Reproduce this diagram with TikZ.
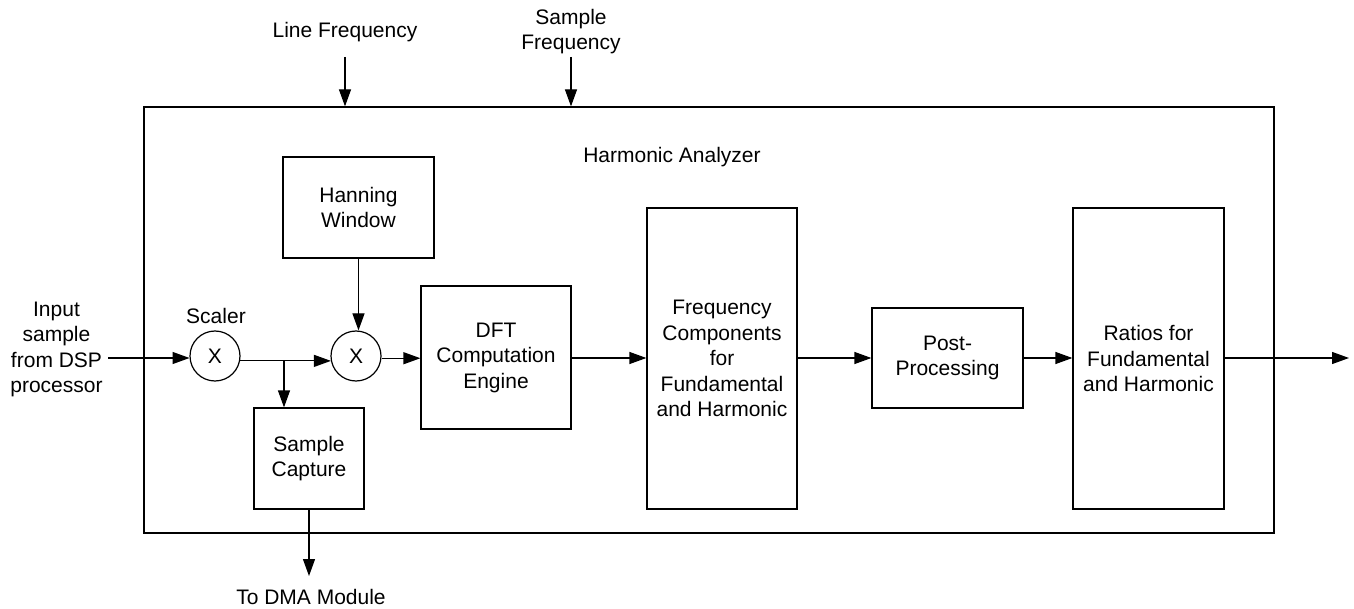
\documentclass[tikz,border=0pt]{standalone}
\usepackage{fontspec}
\setmainfont{Liberation Sans}
\usetikzlibrary{arrows.meta,calc}
\begin{document}
\begin{tikzpicture}[x=1pt,y=-1pt,
  every node/.style={font=\fontsize{21}{25.5}\selectfont, align=center, inner sep=0pt},
  blk/.style={draw, line width=1.2pt, rectangle, inner sep=0pt},
  mult/.style={draw, line width=1.2pt, circle, minimum size=50pt, inner sep=0pt},
  arr/.style={line width=1.2pt, -{Triangle[length=17pt,width=12pt]}},
  ln/.style={line width=1.2pt}]
\useasboundingbox (0,0) rectangle (1354,609);
% outer box
\node[blk, minimum width=1130pt, minimum height=426pt] (main) at (709,320) {};
\node (ha) at (672,157) {Harmonic Analyzer};
% top inputs
\node (lf) at (345,32) {Line Frequency};
\node (sf) at (571,31.5) {Sample\\Frequency};
\coordinate (lfs) at (345,57);
\coordinate (sfs) at (571,57);
\draw[arr] (lfs) -- (lfs |- main.north);
\draw[arr] (sfs) -- (sfs |- main.north);
% input
\node (in) at (56.5,349.5) {Input\\sample\\from DSP\\processor};
\coordinate (ins) at (108,358);
% blocks
\node[mult] (x1) at (215,356) {X};
\node (scl) at (216,316) {Scaler};
\node[mult] (x2) at (356,356) {X};
\node[blk, minimum width=151pt, minimum height=101pt] (hw) at (358.5,207.5) {Hanning\\Window};
\node[blk, minimum width=110pt, minimum height=101pt] (sc) at (309,458.5) {Sample\\Capture};
\node[blk, minimum width=150pt, minimum height=143pt] (dft) at (496,357.5) {DFT\\Computation\\Engine};
\node[blk, minimum width=150pt, minimum height=301pt] (fc) at (722,358.5) {Frequency\\Components\\for\\Fundamental\\and Harmonic};
\node[blk, minimum width=151pt, minimum height=100pt] (pp) at (947.5,358) {Post-\\Processing};
\node[blk, minimum width=151pt, minimum height=301pt] (rt) at (1148.5,358.5) {Ratios for\\Fundamental\\and Harmonic};
\node (dma) at (311,597) {To DMA Module};
\coordinate (dmat) at (309,576);
\coordinate (outp) at (1349,358);
% connectors
\draw[arr] (ins) -- (ins -| x1.185);
\draw[arr] (x1.-11) -- (x2.191);
\coordinate (br) at (284,360.8);
\draw[arr] (br) -- (br |- sc.north);
\draw[arr] (hw.south) -- (hw.south |- x2.north);
\draw[arr] (x2.-5) -- (x2.-5 -| dft.west);
\draw[arr] (dft.east |- 0,358) -- (fc.west |- 0,358);
\draw[arr] (fc.east |- 0,358) -- (pp.west |- 0,358);
\draw[arr] (pp.east |- 0,358) -- (rt.west |- 0,358);
\draw[arr] (rt.east |- outp) -- (outp);
\draw[arr] (sc.south) -- (dmat);
\end{tikzpicture}
\end{document}
